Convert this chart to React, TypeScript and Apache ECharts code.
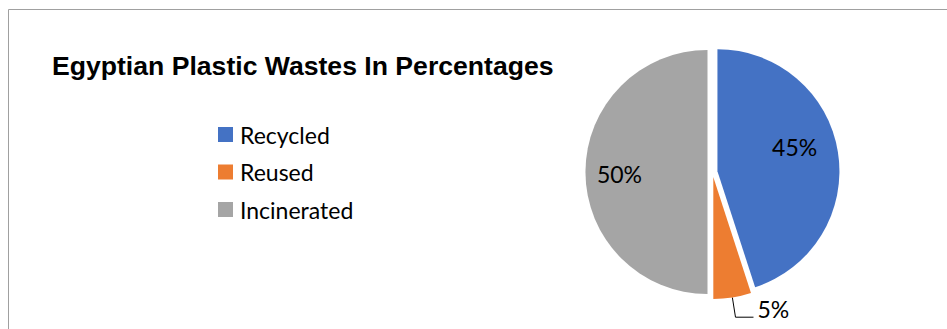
import React, { useEffect, useRef } from "react";
import * as echarts from "echarts";

const titleText = "Egyptian Plastic Wastes In Percentages";
const categories = ["Recycled", "Reused", "Incinerated"];
const values = [45, 5, 50];
const colors = ["#4472C4", "#ED7D31", "#A5A5A5"];

export default function App() {
  const ref = useRef<HTMLDivElement>(null);
  useEffect(() => {
    if (!ref.current) return;
    const chart = echarts.init(ref.current, undefined, { renderer: "svg" });
    const labelShift: Record<number, [number, number]> = { 0: [14, -14], 1: [1, -8], 2: [-24, 2] };
    chart.setOption({
      animation: false,
      backgroundColor: "#ffffff",
      title: {
        text: titleText,
        left: 47,
        top: 47,
        textStyle: {
          fontFamily: "Liberation Sans, Arial, sans-serif",
          fontWeight: "bold",
          fontSize: 26.6,
          color: "#000000",
        },
      },
      legend: {
        orient: "vertical",
        left: 218,
        top: 123,
        padding: 0,
        icon: "rect",
        itemWidth: 15,
        itemHeight: 15,
        itemGap: 14.5,
        data: categories,
        textStyle: {
          fontFamily: "Lato, sans-serif",
          fontSize: 23,
          lineHeight: 23,
          color: "#000000",
          padding: [0, 0, 0, 2],
        },
      },
      graphic: [
        {
          type: "rect",
          silent: true,
          shape: { x: 8.5, y: 9.5, width: 1000, height: 400 },
          style: { fill: "none", stroke: "#a0a0a0", lineWidth: 1 },
        },
      ],
      series: [
        {
          type: "pie",
          center: [712.5, 172],
          radius: 122,
          startAngle: 90,
          clockwise: true,
          selectedMode: "multiple",
          selectedOffset: 5,
          avoidLabelOverlap: false,
          emphasis: { disabled: true },
          label: {
            show: true,
            position: "inside",
            formatter: "{d}%",
            fontFamily: "Lato, sans-serif",
            fontSize: 23,
            color: "#000000",
          },
          labelLine: {
            show: true,
            length: 20,
            length2: 18,
            lineStyle: { color: "#000000", width: 1 },
          },
          labelLayout: (params: any) => {
            const s = labelShift[params.dataIndex];
            return s ? { dx: s[0], dy: s[1] } : {};
          },
          data: categories.map((name, i) => ({
            name,
            value: values[i],
            selected: true,
            itemStyle: { color: colors[i] },
            label: i === 1 ? { position: "outside", distanceToLabelLine: 3 } : undefined,
          })),
        },
      ],
    });
    return () => chart.dispose();
  }, []);
  return (
    <div
      ref={ref}
      style={{ position: "absolute", left: 0, top: 0, width: 947, height: 329 }}
    />
  );
}
